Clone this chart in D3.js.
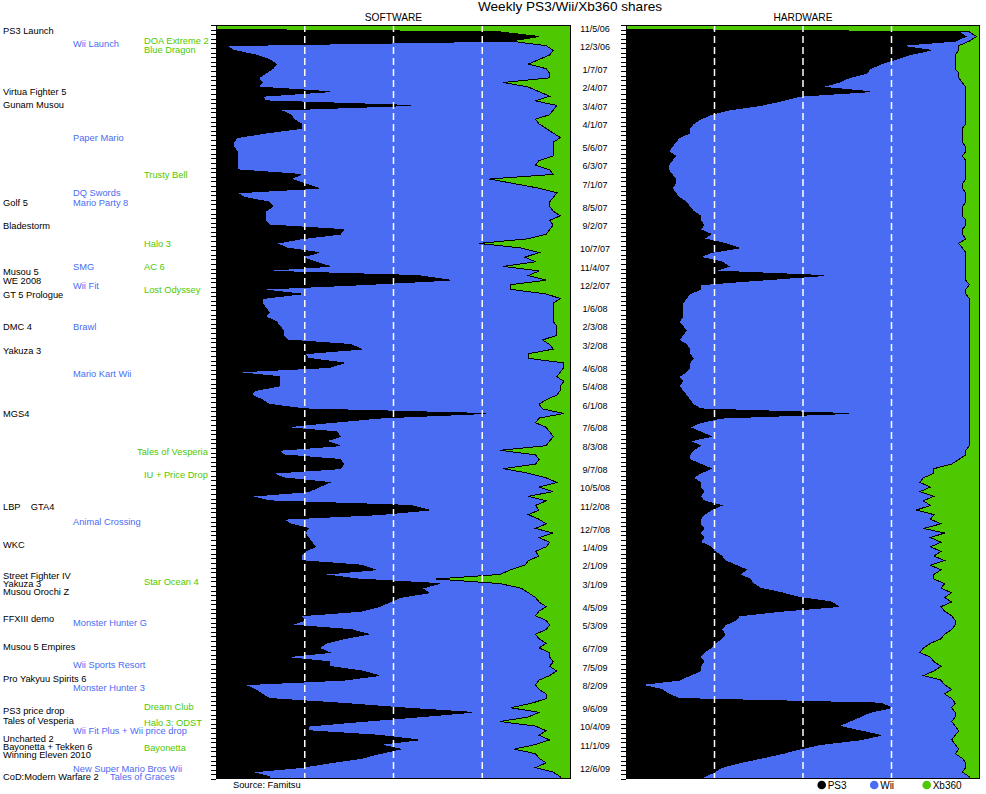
<!DOCTYPE html>
<html><head><meta charset="utf-8">
<script src="https://cdn.jsdelivr.net/npm/d3@7"></script>
<style>body{margin:0;background:#fff} text{font-family:"Liberation Sans",Arial,sans-serif}</style>
</head><body><svg id="c" width="986" height="794"></svg>
<script>
// weekly rows, 11/5/06 .. 12/20/09
const weekCount = 164;
// shares in percent (Wii = 100 - PS3 - Xb360)
const swPS3 = [0,80,91,83,3,5,11,15,17,16, 14,12,13,12,32,13,14,55,18,21, 22,24,24,14,6,5,5,6,6,6, 6,6,24,21,25,29,6,8,15,16,
 14,14,14,15,36,35,24,17,20,29, 24,28,32,12,57,66,41,12,24,13, 13,14,15,14,17,18,19,19,20,38, 41,25,26,36,32,5,18,18,18,11,
 10,13,15,25,76,46,32,19,34,35, 31,35,18,19,35,36,35,16,19,32, 29,26,10,15,55,60,46,19,21,26, 25,26,27,28,25,24,24,41,45,30,
 40,63,58,60,52,49,46,41,24,25, 21,38,43,36,31,29,32,19,32,32, 41,46,36,8,11,13,15,35,52,72, 57,41,26,26,46,57,46,52,46,41, 32,24,10,15];
const swX360 = [100,20,9,17,7,5,6,9,12,7, 6,6,19,12,9,6,10,4,5,6, 10,9,7,5,3,5,5,5,5,9, 10,6,5,23,16,9,4,5,6,6,
 5,3,6,5,6,7,12,26,14,9, 13,10,19,9,12,7,17,17,7,3, 5,5,5,5,5,4,4,4,8,6, 5,12,12,2,2,3,4,2,3,3,
 4,7,9,8,2,9,10,7,6,5, 6,7,20,10,9,10,19,12,7,4, 9,5,12,7,10,9,12,9,7,10, 5,9,6,7,10,9,12,13,17,20,
 38,20,14,12,10,9,7,9,10,7, 6,7,10,9,7,9,6,6,5,6, 4,6,9,10,9,7,7,11,17,9, 12,20,10,7,9,6,10,16,10,9, 7,10,5,3];
const hwPS3 = [0,94,96,93,77,86,80,76,72,69, 68,63,60,55,69,49,44,38,29,24, 21,19,18,18,15,14,13,12,14,13, 12,12,13,14,14,13,14,15,17,18,
 19,21,21,22,21,24,22,28,32,24, 21,27,29,25,56,38,21,21,18,17, 16,16,16,16,15,16,17,16,15,17, 18,18,19,18,18,17,15,16,15,16,
 17,18,19,21,63,27,21,18,21,24, 18,21,19,18,18,21,24,21,19,21, 21,22,21,22,27,24,22,21,21,22, 21,22,21,24,25,27,28,31,34,32,
 35,36,38,44,49,58,60,44,32,31, 28,27,28,27,25,24,22,21,22,21, 21,18,15,4,10,12,15,72,75,69, 66,63,60,66,72,66,55,49,44,38, 32,27,25,22];
const hwX360 = [100,3,1,3,6,6,7,7,7,7, 6,6,5,4,4,4,4,4,4,4, 4,4,5,5,5,5,4,4,5,4, 4,4,4,4,5,5,4,4,4,5,
 5,5,4,4,5,5,4,6,5,4, 4,4,4,4,4,4,3,4,4,3, 3,3,3,3,3,3,3,3,3,3, 3,3,3,3,3,3,3,3,3,3,
 3,3,3,3,3,3,3,3,3,3, 3,3,4,4,6,8,13,13,16,17, 14,17,13,16,14,18,13,14,11,16, 10,14,11,14,11,13,10,14,11,13,
 13,10,11,8,10,8,11,10,8,7, 7,8,10,11,14,16,17,14,13,11, 13,16,11,10,8,10,8,7,8,7, 7,8,7,6,7,8,7,6,7,5, 4,4,5,3];

const dateLabels = ["11/5/06","12/3/06","1/7/07","2/4/07","3/4/07","4/1/07","5/6/07","6/3/07","7/1/07","8/5/07","9/2/07","10/7/07","11/4/07","12/2/07",
 "1/6/08","2/3/08","3/2/08","4/6/08","5/4/08","6/1/08","7/6/08","8/3/08","9/7/08","10/5/08","11/2/08","12/7/08",
 "1/4/09","2/1/09","3/1/09","4/5/09","5/3/09","6/7/09","7/5/09","8/2/09","9/6/09","10/4/09","11/1/09","12/6/09"];
const dateWeeks = [0,4,9,13,17,21,26,30,34,39,43,48,52,56,61,65,69,74,78,82,87,91,96,100,104,109,113,117,121,126,130,135,139,143,148,152,156,161];

const annoText = ["PS3 Launch","Virtua Fighter 5","Gunam Musou","Golf 5","Bladestorm","Musou 5","WE 2008","GT 5 Prologue","DMC 4","Yakuza 3","MGS4","LBP    GTA4","WKC","Street Fighter IV","Yakuza 3","Musou Orochi Z","FFXIII demo","Musou 5 Empires","Pro Yakyuu Spirits 6","PS3 price drop","Tales of Vesperia","Uncharted 2","Bayonetta + Tekken 6","Winning Eleven 2010","CoD:Modern Warfare 2",
 "Wii Launch","Paper Mario","DQ Swords","Mario Party 8","SMG","Wii Fit","Brawl","Mario Kart Wii","Animal Crossing","Monster Hunter G","Wii Sports Resort","Monster Hunter 3","Wii Fit Plus + Wii price drop","New Super Mario Bros Wii","Tales of Graces",
 "DOA Extreme 2","Blue Dragon","Trusty Bell","Halo 3","AC 6","Lost Odyssey","Tales of Vesperia","IU + Price Drop","Star Ocean 4","Dream Club","Halo 3: ODST","Bayonetta"];
const annoWeek = [0.5,13.8,16.6,38,43,52.9,54.9,58.1,64.9,70.2,84,104.2,112.4,119.2,120.9,122.5,128.5,134.6,141.6,148.5,150.7,154.6,156.3,158,162.8,
 3.5,23.8,35.8,38,51.9,56,65,75.1,107.3,129.3,138.5,143.4,152.8,161.2,162.8,
 2.8,4.8,31.8,46.9,51.9,57,92.1,97.1,120.4,147.6,151.1,156.5];
const annoPlatform = [].concat(Array(25).fill("PS3"), Array(15).fill("Wii"), Array(12).fill("X360"));

const colors = {PS3:"#000000", Wii:"#4a6cf2", X360:"#4ec800"};
const columnX = {PS3:3, Wii:73, X360:144};
const nudgeX = {"Tales of Graces|Wii":37, "Tales of Vesperia|X360":-7};

const svg = d3.select("#c");
const yRow = d3.scaleLinear().domain([0, weekCount]).range([25, 779]);

const panels = [
  {name:"SOFTWARE", ps3:swPS3, x360:swX360, x0:216, x1:571},
  {name:"HARDWARE", ps3:hwPS3, x360:hwX360, x0:626, x1:980}
];

panels.forEach((p, i) => {
  const x = d3.scaleLinear().domain([0,100]).range([p.x0, p.x1]);
  const rows = d3.range(weekCount).map(k => ({w:k+0.5, PS3:p.ps3[k], X360:p.x360[k], Wii:100-p.ps3[k]-p.x360[k]}));
  // first week (before launches) fills its whole row
  const pts = [Object.assign({}, rows[0], {w:0}), Object.assign({}, rows[0], {w:0.95}), ...rows.slice(1),
               Object.assign({}, rows[rows.length-1], {w:weekCount})];
  const series = d3.stack().keys(["PS3","Wii","X360"])(pts);
  const clipId = "clip" + i;
  svg.append("clipPath").attr("id", clipId).append("rect")
    .attr("x", p.x0).attr("y", yRow(0)).attr("width", p.x1-p.x0).attr("height", yRow(weekCount)-yRow(0));
  const g = svg.append("g").attr("clip-path", `url(#${clipId})`);
  const area = d3.area().y(d => yRow(d.data.w)).x0(d => x(d[0])).x1(d => x(d[1]));
  g.selectAll("path.area").data(series).join("path").attr("class","area")
    .attr("fill", s => colors[s.key]).attr("shape-rendering","crispEdges").attr("d", area);
  const line = d3.line().y(d => yRow(d.data.w)).x(d => x(d[1]));
  g.selectAll("path.edge").data(series.slice(0,2)).join("path").attr("class","edge")
    .attr("fill","none").attr("stroke","#000").attr("stroke-width",1).attr("shape-rendering","crispEdges").attr("d", line);
  g.selectAll("line.grid").data([25,50,75]).join("line").attr("class","grid")
    .attr("x1", d => x(d)).attr("x2", d => x(d)).attr("y1", yRow(0)).attr("y2", yRow(weekCount))
    .attr("stroke","#fff").attr("stroke-width",1.5).attr("stroke-dasharray","7,4");
  svg.append("rect").attr("x", p.x0+0.5).attr("y", yRow(0)+0.5).attr("width", p.x1-p.x0-1).attr("height", yRow(weekCount)-yRow(0)-1)
    .attr("fill","none").attr("stroke","#000");
  const ax = svg.append("g").attr("transform", `translate(${p.x0},0)`)
    .call(d3.axisLeft(yRow).tickValues(d3.range(0, weekCount+1)).tickSize(5).tickFormat(""));
  ax.select(".domain").remove();
  ax.selectAll("line").attr("stroke","#000").attr("shape-rendering","crispEdges");
  svg.append("text").attr("x", (p.x0+p.x1)/2).attr("y", 21).attr("text-anchor","middle")
    .attr("font-size", 10.2).text(p.name);
});

svg.append("text").attr("x", 570).attr("y", 11).attr("text-anchor","middle").attr("font-size", 13.6)
  .text("Weekly PS3/Wii/Xb360 shares");

svg.append("g").selectAll("text").data(dateLabels).join("text")
  .attr("x", 595).attr("y", (d,i) => yRow(dateWeeks[i]) + 6.5).attr("text-anchor","middle")
  .attr("font-size", 9).text(d => d);

svg.append("g").selectAll("text").data(annoText).join("text")
  .attr("x", (d,i) => columnX[annoPlatform[i]] + (nudgeX[d + "|" + annoPlatform[i]] || 0))
  .attr("y", (d,i) => yRow(annoWeek[i]) + 6.3)
  .attr("fill", (d,i) => colors[annoPlatform[i]])
  .attr("font-size", 9.3).style("white-space","pre").text(d => d);

svg.append("text").attr("x", 233).attr("y", 788).attr("font-size", 9.3).text("Source: Famitsu");

const legendKeys = ["PS3","Wii","X360"];
const legendNames = ["PS3","Wii","Xb360"];
const lg = svg.append("g").selectAll("g").data(legendKeys).join("g")
  .attr("transform", (d,i) => `translate(${821.7 + i*52.5},785)`);
lg.append("circle").attr("r", 4.3).attr("fill", d => colors[d]);
lg.append("text").attr("x", 6).attr("y", 4).attr("font-size", 10).text((d,i) => legendNames[i]);
</script></body></html>
